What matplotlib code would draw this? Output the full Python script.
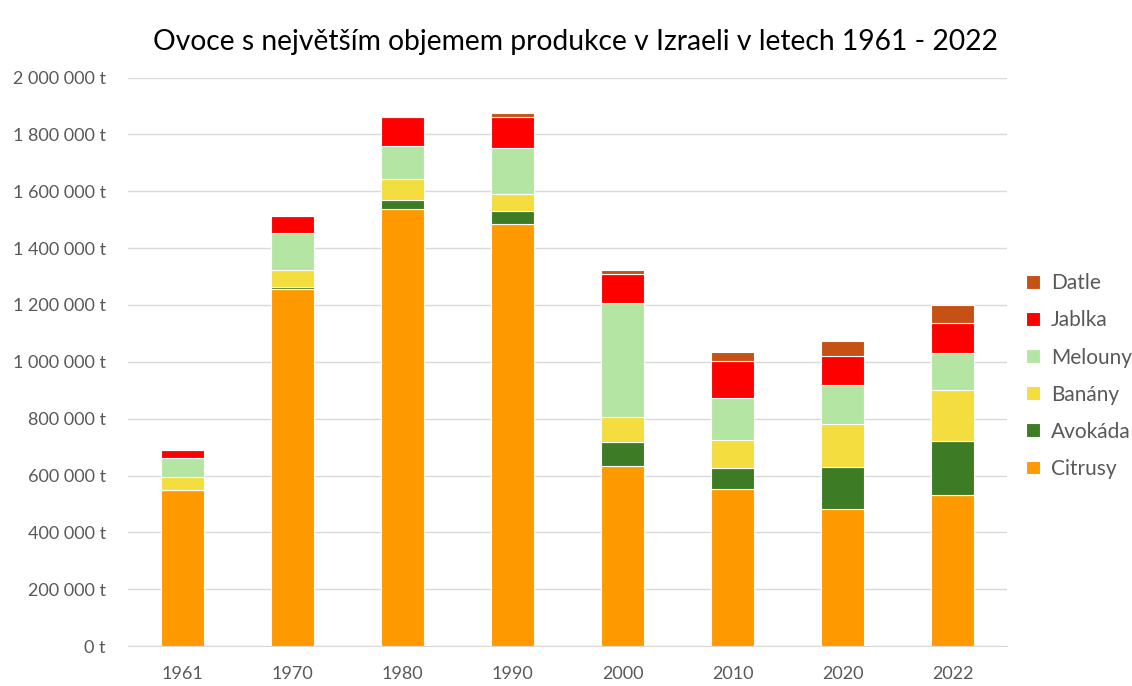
import matplotlib.pyplot as plt
import numpy as np

plt.rcParams['font.family'] = ['Lato', 'DejaVu Sans']

# Data (tonnes)
years = ['1961', '1970', '1980', '1990', '2000', '2010', '2020', '2022']
citrusy = [550000, 1257000, 1536000, 1485000, 635000, 553000, 483000, 532000]
avokada = [0, 5000, 33000, 47000, 82000, 72000, 148000, 188000]
banany = [44000, 60000, 74000, 57000, 88000, 101000, 152000, 182000]
melouny = [68000, 130000, 116000, 162000, 403000, 148000, 136000, 130000]
jablka = [29000, 60000, 101000, 111000, 102000, 130000, 103000, 105000]
datle = [0, 0, 0, 12000, 12000, 29000, 50000, 63000]

series = [
    ('Citrusy', citrusy, '#FF9900'),
    ('Avokáda', avokada, '#3D7B24'),
    ('Banány', banany, '#F4DD3E'),
    ('Melouny', melouny, '#B5E5A2'),
    ('Jablka', jablka, '#FF0000'),
    ('Datle', datle, '#C55115'),
]

fig = plt.figure(figsize=(11.32, 6.86), dpi=100)
ax = fig.add_axes([0.113, 0.058, 0.777, 0.829])

x = np.arange(len(years))
bottom = np.zeros(len(years))
handles = []
for name, vals, col in series:
    vals = np.array(vals, dtype=float)
    h = ax.bar(x, vals, 0.39, bottom=bottom, color=col, label=name,
               edgecolor='white', linewidth=0.8, zorder=3)
    handles.append(h)
    bottom += vals

ax.set_xlim(-0.5, len(years) - 0.5)
ax.set_ylim(0, 2000000)
ax.set_yticks(np.arange(0, 2000001, 200000))
ax.set_yticklabels([f"{v:,} t".replace(',', ' ') for v in range(0, 2000001, 200000)])
ax.set_xticks(x)
ax.set_xticklabels(years)
ax.tick_params(axis='y', length=0, labelsize=13, colors='#595959', pad=16)
ax.tick_params(axis='x', length=0, labelsize=13, colors='#595959', pad=14)
ax.grid(axis='y', color='#D9D9D9', linewidth=1, zorder=0)
for s in ['top', 'right', 'left']:
    ax.spines[s].set_visible(False)
ax.spines['bottom'].set_color('#D9D9D9')

fig.suptitle('Ovoce s největším objemem produkce v Izraeli v letech 1961 - 2022',
             x=0.508, y=0.957, fontsize=20.3, color='#000000')

leg = ax.legend(handles[::-1], [s[0] for s in series][::-1],
                loc='center left', bbox_to_anchor=(1.0, 0.475), frameon=False,
                fontsize=15, handlelength=0.65, handleheight=0.65,
                labelspacing=0.82, handletextpad=0.55)
for t in leg.get_texts():
    t.set_color('#595959')

fig.savefig('out.png', dpi=100)
